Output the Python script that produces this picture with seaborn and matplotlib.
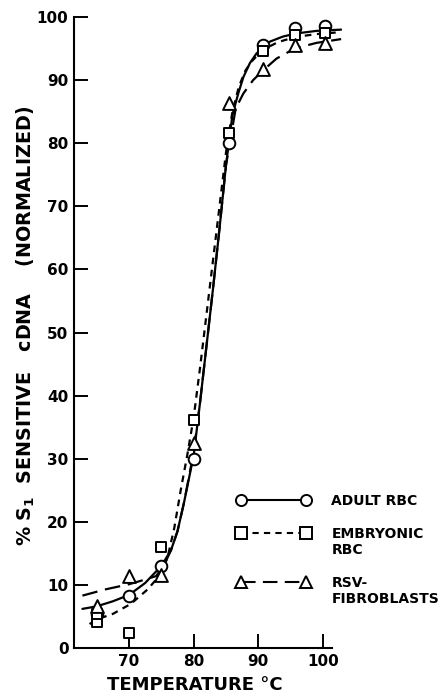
import numpy as np
import pandas as pd
import seaborn as sns
import matplotlib.pyplot as plt
from matplotlib.lines import Line2D

# measured points: temperature (C) and % S1 sensitive cDNA (normalized)
pt_temp = [65, 70, 75, 80, 85.5, 90.7, 95.7, 100.3]
adult_pts = [5.4, 8.3, 13.0, 30.0, 80.0, 95.6, 98.3, 98.5]
embryonic_pts = [4.1, 2.4, 16.0, 36.2, 81.6, 94.6, 97.2, 97.4]
embryonic_extra_temp = [65]
embryonic_extra_pts = [5.4]
rsv_pts = [6.7, 11.4, 11.6, 32.5, 86.3, 91.7, 95.6, 95.9]

# fitted curves
adult_curve_t = [62.8, 65, 67.5, 70, 72.5, 75, 76.5, 77.5, 78.5, 79.3, 80, 81, 82, 83, 84, 85,
                 86, 86.9, 87.7, 88.7, 89.7, 91.8, 93.8, 95.9, 99, 102.8]
adult_curve_v = [6.2, 6.6, 7.4, 8.4, 10.3, 13.0, 15.5, 18.5, 23, 27, 30.5, 39, 48, 57, 66.5, 76.5,
                 84.5, 87.9, 90.5, 92.7, 94.2, 96.1, 96.9, 97.4, 97.8, 98.0]

embryonic_curve_t = [63.9, 65.2, 67.5, 70.3, 72.9, 75, 76, 77, 78, 79, 80, 81, 82, 83, 84, 85,
                     86, 87, 88, 89, 90.7, 93, 95.6, 99, 102.8]
embryonic_curve_v = [3.8, 4.6, 5.4, 7.0, 9.3, 11.8, 14.5, 19, 25, 30.5, 36.5, 44.5, 53, 61.5, 70, 78.5,
                     85, 89, 91.5, 93, 94.8, 96, 96.8, 97.3, 97.6]

rsv_curve_t = [62.8, 66.4, 70, 72, 74.2, 75.5, 76.5, 77.5, 78.5, 80, 81, 82, 83, 84, 85, 86.5,
               87.7, 89.2, 90.7, 92.8, 95.6, 99, 102.8]
rsv_curve_v = [8.3, 9.3, 10.1, 10.7, 11.4, 13.3, 15.5, 18.5, 23, 31, 39, 48, 57, 66.5, 76.5, 85.5,
               87.9, 90.0, 91.5, 93.4, 95.0, 95.9, 96.5]

sns.set_style("ticks")
plt.rcParams['font.family'] = ['DejaVu Sans']
plt.rcParams['font.weight'] = 'bold'
plt.rcParams['mathtext.default'] = 'bf'
for k in ['text.color', 'axes.labelcolor', 'xtick.color', 'ytick.color']:
    plt.rcParams[k] = 'black'

curves = pd.concat([
    pd.DataFrame({'temp': adult_curve_t, 'pct': adult_curve_v, 'cells': 'adult'}),
    pd.DataFrame({'temp': embryonic_curve_t, 'pct': embryonic_curve_v, 'cells': 'embryonic'}),
    pd.DataFrame({'temp': rsv_curve_t, 'pct': rsv_curve_v, 'cells': 'rsv'}),
], ignore_index=True)

short_dash = (3, 2.5)
long_dash = (7, 3.5)

fig = plt.figure(figsize=(4.43, 6.94), dpi=100)
ax = fig.add_axes([74 / 443, 46 / 694, 268.4 / 443, 631 / 694])

sns.lineplot(data=curves, x='temp', y='pct', style='cells',
             style_order=['adult', 'embryonic', 'rsv'],
             dashes={'adult': '', 'embryonic': short_dash, 'rsv': long_dash},
             color='black', linewidth=1.6, estimator=None, sort=False,
             legend=False, ax=ax)

point_sets = [
    (pt_temp, adult_pts, 'o', 70),
    (pt_temp, embryonic_pts, 's', 62),
    (embryonic_extra_temp, embryonic_extra_pts, 's', 62),
    (pt_temp, rsv_pts, '^', 85),
]
for i, (t, v, m, s) in enumerate(point_sets):
    sns.scatterplot(x=t, y=v, marker=m, s=s, color='white', edgecolor='black',
                    linewidth=1.4, zorder=3 + i, ax=ax)

ax.set_xlim(61.5, 103)
ax.set_ylim(0, 100)
ax.set_xticks([70, 80, 90, 100])
ax.set_yticks(range(0, 101, 10))
ax.tick_params(direction='in', length=10, width=1.4, labelsize=11, pad=4, colors='black')
sns.despine(ax=ax)
ax.spines['bottom'].set_bounds(61.5, 101.4)
for sp in ['left', 'bottom']:
    ax.spines[sp].set_linewidth(1.5)
    ax.spines[sp].set_color('black')

ax.set_xlabel('TEMPERATURE °C', fontsize=13, fontweight='bold', va='center')
ax.xaxis.set_label_coords(0.45, -0.058)
ax.set_ylabel('% S$_1$  SENSITIVE   cDNA    (NORMALIZED)', fontsize=13.8,
              fontweight='bold', va='center')
ax.yaxis.set_label_coords(-0.178, 0.51)

def key(ls, m):
    return Line2D([], [], color='black', lw=1.5, ls=ls, marker=m, ms=8,
                  mfc='white', mec='black', mew=1.4)

blank = Line2D([], [], ls='none')
handles = [key('-', 'o'), blank, key((0, short_dash), 's'), blank, blank,
           key((0, long_dash), '^'), blank]
labels = ['ADULT RBC', ' ', 'EMBRYONIC', 'RBC', ' ', 'RSV-', 'FIBROBLASTS']
fig.legend(handles, labels, loc='upper left', bbox_to_anchor=(237 / 443, 1 - 494 / 694),
           frameon=False, borderpad=0, borderaxespad=0, handlelength=5.3,
           handletextpad=1.5, labelspacing=0.17, numpoints=2,
           prop={'weight': 'bold', 'size': 10})

fig.savefig('out.png', dpi=100)
